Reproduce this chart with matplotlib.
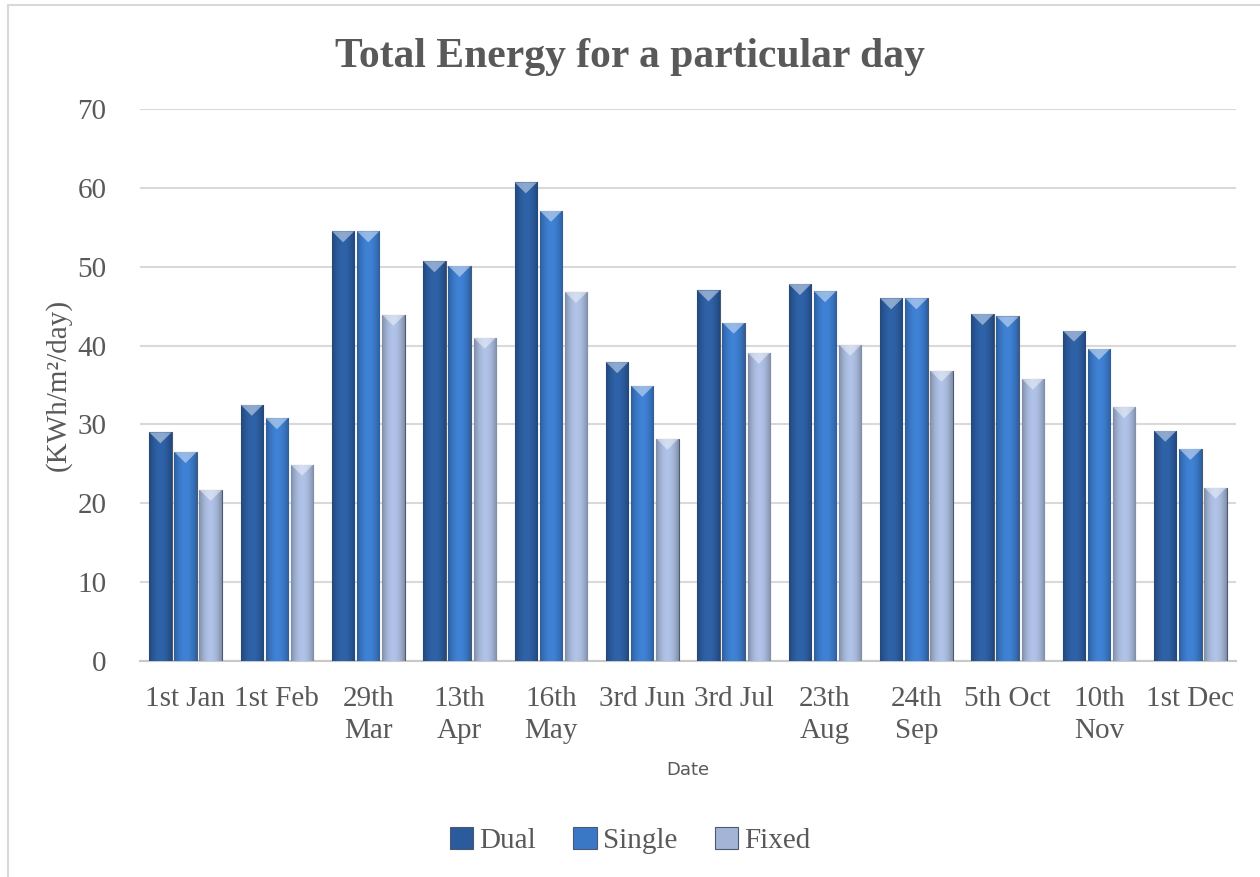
import numpy as np
import matplotlib.pyplot as plt
from matplotlib.patches import Rectangle

dates = ["1st Jan", "1st Feb", "29th\nMar", "13th\nApr", "16th\nMay", "3rd Jun",
         "3rd Jul", "23th\nAug", "24th\nSep", "5th Oct", "10th\nNov", "1st Dec"]
dual = [29.0, 32.5, 54.5, 50.7, 60.7, 37.9, 47.0, 47.8, 46.0, 44.0, 41.9, 29.2]
single = [26.5, 30.8, 54.5, 50.1, 57.1, 34.9, 42.9, 46.9, 46.0, 43.7, 39.6, 26.9]
fixed = [21.7, 24.9, 43.9, 41.0, 46.8, 28.2, 39.1, 40.1, 36.8, 35.8, 32.2, 22.0]

series = [("Dual", dual, "#2b5b9c"), ("Single", single, "#3a78c6"), ("Fixed", fixed, "#a3b4d6")]

plt.rcParams['font.family'] = ['Liberation Serif', 'DejaVu Serif']
txt = "#595959"

fig = plt.figure(figsize=(12.6, 8.77), dpi=100)
ax = fig.add_axes([0.111, 0.2463, 0.87, 0.6294])

x = np.arange(len(dates))
w = 0.245
step = 0.275


def shade(c):
    # horizontal gradient: dark edges, lighter middle
    base = np.array(plt.matplotlib.colors.to_rgb(c))
    t = np.linspace(-1, 1, 64)
    f = 0.78 + 0.3 * (1 - t ** 2)
    img = np.clip(base[None, :] * f[:, None], 0, 1)
    return img[None, :, :]


for i, (name, vals, col) in enumerate(series):
    bars = ax.bar(x + (i - 1) * step, vals, w, color=col, edgecolor="#4a5a70",
                  linewidth=0.8, label=name, zorder=3)
    for b in bars:
        bx, by = b.get_x(), b.get_y()
        bw, bh = b.get_width(), b.get_height()
        im = ax.imshow(shade(col), extent=[bx, bx + bw, by, by + bh], aspect="auto",
                       zorder=3.5, interpolation="bilinear")
        im.set_clip_path(b)
        # top bevel highlight
        ax.fill([bx, bx + bw, bx + bw / 2], [by + bh, by + bh, by + bh - 1.4],
                color="white", alpha=0.45, zorder=4, lw=0)

ax.set_xlim(-0.5, len(dates) - 0.5)
ax.set_ylim(0, 70)
ax.set_yticks(range(0, 71, 10))
ax.set_xticks(x)
ax.set_xticklabels(dates, linespacing=1.3)
ax.tick_params(length=0, labelsize=21, labelcolor=txt, pad=18)
ax.tick_params(axis="y", pad=24)
ax.grid(axis="y", color="#d9d9d9", linewidth=1.5, zorder=0)
for s in ["top", "right", "left"]:
    ax.spines[s].set_visible(False)
ax.spines["bottom"].set_color("#c8c8c8")
ax.spines["bottom"].set_linewidth(1.5)

ax.set_title("Total Energy for a particular day", fontsize=30, fontweight="bold",
             color=txt, pad=30, x=(0.5 - 0.111) / 0.87)
ax.set_ylabel("(KWh/m²/day)", fontsize=21, color=txt, labelpad=4)
ax.set_xlabel("Date", fontsize=13, color=txt, family="DejaVu Sans", labelpad=12)

ax.legend(loc="center", bbox_to_anchor=(0.5, 0.042), bbox_transform=fig.transFigure,
          ncol=3, frameon=False, fontsize=21, labelcolor=txt, handlelength=0.8,
          handleheight=0.8, handletextpad=0.2, columnspacing=1.3)

fig.patches.append(Rectangle((0.006, -0.01), 0.999, 1.004, transform=fig.transFigure,
                             fill=False, edgecolor="#d9d9d9", linewidth=1.5))

fig.savefig("out.png", dpi=100)
